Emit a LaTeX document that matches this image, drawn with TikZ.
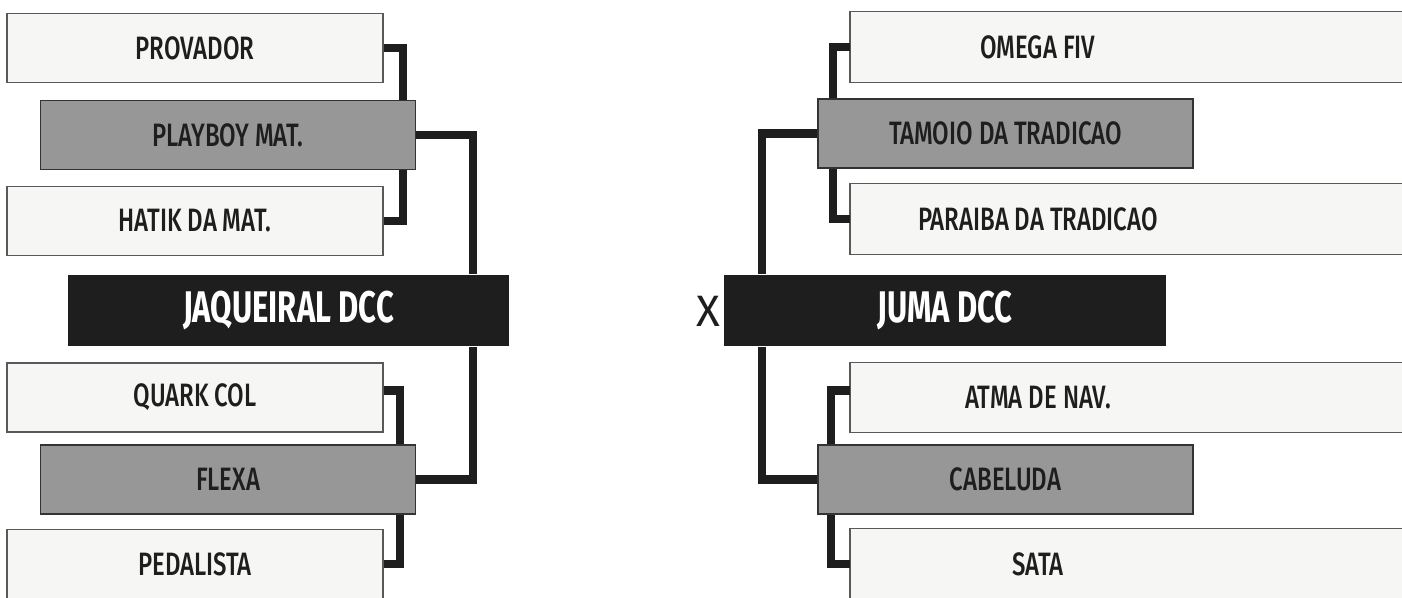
\documentclass[tikz,border=0pt]{standalone}
\usepackage{fontspec}
\setmainfont{Fira Sans}
\newfontfamily\teamfont{Fira Sans Medium}[FakeStretch=0.74]
\newfontfamily\titlefont{Fira Sans Bold}[FakeStretch=0.7]
\usepackage{xcolor}
\usetikzlibrary{positioning, calc, backgrounds}

\definecolor{boxfill}{HTML}{F6F6F4}
\definecolor{winfill}{HTML}{979797}
\definecolor{inkblack}{HTML}{1E1E1E}

\begin{document}
\begin{tikzpicture}[
        x=0.01cm, y=-0.01cm,
        team/.style={draw=black!65, line width=0.4pt, rectangle, fill=boxfill,
            minimum width=3.76cm, minimum height=0.69cm, inner sep=0pt,
            font=\teamfont\fontsize{9.2}{11}\selectfont, text=inkblack},
        winner/.style={team, fill=winfill, draw=black!80, minimum width=3.75cm},
        teamR/.style={team, draw=none, fill=none, minimum width=3.74cm},
        finalist/.style={rectangle, fill=inkblack, minimum width=4.41cm,
            minimum height=0.71cm, inner sep=0pt, text=white,
            font=\titlefont\fontsize{12.6}{15}\selectfont},
        rbox/.style={draw=black!65, line width=0.4pt, fill=boxfill},
        link/.style={draw=inkblack, line width=2.3pt, line join=miter},
    ]
        \useasboundingbox (0,0) rectangle (1402,598);

        % left half
        \node[team] (provador) at (195,48) {PROVADOR};
        \node[winner] (playboy) at (228,135) {PLAYBOY MAT.};
        \node[team] (hatik) at (195,221) {HATIK DA MAT.};
        \node[finalist] (jaqueiral) at (288.5,310.5) {JAQUEIRAL DCC};
        \node[team] (quark) at (195,397.5) {QUARK COL};
        \node[winner] (flexa) at (228,479.5) {FLEXA};
        \node[team] (pedalista) at (195,564) {PEDALISTA};

        \node[font=\fontsize{12.5}{14}\selectfont, text=inkblack] (vs) at (708,311) {X};

        % right half
        \node[teamR] (omega) at (1038,47) {OMEGA FIV};
        \node[winner] (tamoio) at (1005.5,133.5) {TAMOIO DA TRADICAO};
        \node[teamR] (paraiba) at (1038,219) {PARAIBA DA TRADICAO};
        \node[finalist] (juma) at (945,310.5) {JUMA DCC};
        \node[teamR] (atma) at (1038,397.5) {ATMA DE NAV.};
        \node[winner] (cabeluda) at (1005.5,479.5) {CABELUDA};
        \node[teamR] (sata) at (1038,564) {SATA};

        \begin{scope}[on background layer]
            \foreach \n in {omega, paraiba, atma, sata}
                \path[rbox] (\n.north west) rectangle ([xshift=3cm]\n.south east);
        \end{scope}

        % brackets
        \draw[link] (provador.east) -| ([xshift=-0.13cm]playboy.north east);
        \draw[link] (hatik.east) -| ([xshift=-0.13cm]playboy.south east);
        \draw[link] (playboy.east) -| ([xshift=-0.37cm]jaqueiral.north east);
        \draw[link] ([yshift=0.07cm]quark.east) -| ([xshift=-0.16cm]flexa.north east);
        \draw[link] (pedalista.east) -| ([xshift=-0.16cm]flexa.south east);
        \draw[link] (flexa.east) -| ([xshift=-0.37cm]jaqueiral.south east);

        \draw[link] (omega.west) -| ([xshift=0.16cm]tamoio.north west);
        \draw[link] (paraiba.west) -| ([xshift=0.16cm]tamoio.south west);
        \draw[link] (tamoio.west) -| ([xshift=0.38cm]juma.north west);
        \draw[link] ([yshift=0.07cm]atma.west) -| ([xshift=0.14cm]cabeluda.north west);
        \draw[link] (sata.west) -| ([xshift=0.14cm]cabeluda.south west);
        \draw[link] (cabeluda.west) -| ([xshift=0.38cm]juma.south west);
    \end{tikzpicture}
\end{document}
